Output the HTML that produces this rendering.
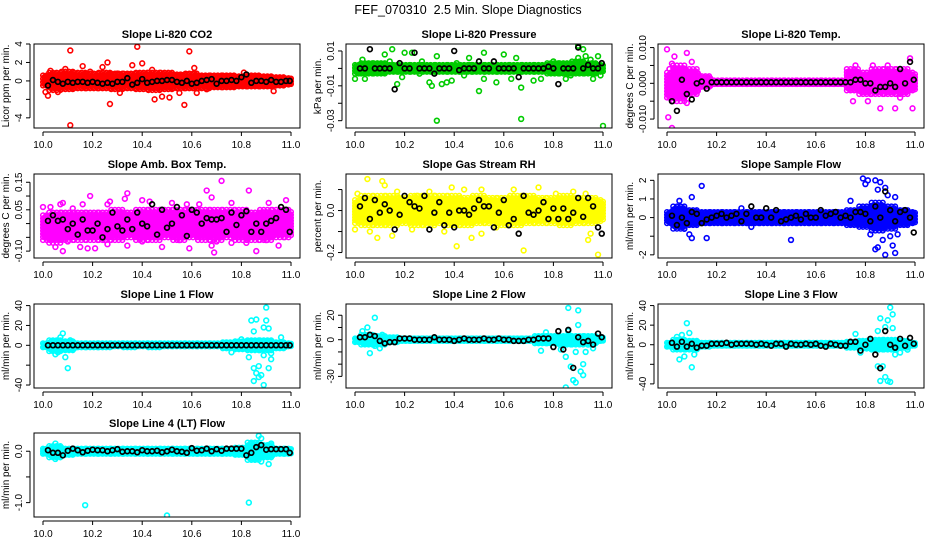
<!DOCTYPE html>
<html><head><meta charset="utf-8"><style>
html,body{margin:0;padding:0;background:#fff;}
svg{display:block;font-family:"Liberation Sans",Arial,sans-serif;}
</style></head><body>
<svg id="chart" width="936" height="540" viewBox="0 0 936 540" xmlns="http://www.w3.org/2000/svg">
<rect width="936" height="540" fill="#fff"/>
<text x="468" y="14" text-anchor="middle" font-size="12.5" xml:space="preserve">FEF_070310  2.5 Min. Slope Diagnostics</text>
</svg>
<script>
const blackX = [10.02,10.04,10.06,10.08,10.10,10.12,10.14,10.16,10.18,10.20,10.22,10.24,10.26,10.28,10.30,10.32,10.34,10.36,10.38,10.40,10.42,10.44,10.46,10.48,10.50,10.52,10.54,10.56,10.58,10.60,10.62,10.64,10.66,10.68,10.70,10.72,10.74,10.76,10.78,10.80,10.82,10.84,10.86,10.88,10.90,10.92,10.94,10.96,10.98,10.995];
const binX = [10.00,10.05,10.10,10.15,10.20,10.25,10.30,10.35,10.40,10.45,10.50,10.55,10.60,10.65,10.70,10.75,10.80,10.85,10.90,10.95,11.00];
const xTicks = [10.0,10.2,10.4,10.6,10.8,11.0];
const xTickLabels = ["10.0","10.2","10.4","10.6","10.8","11.0"];

// CO2
const co2BlackY = [-0.5,0.1,-0.1,-0.3,-0.1,-0.2,-0.1,-0.1,-0.2,-0.1,-0.2,-0.3,-0.2,-0.3,-0.1,-0.1,0.3,-0.4,-0.2,0.2,-0.2,-0.1,0,0,0.1,0.1,-0.1,-0.2,0,-0.3,-0.2,0,0.1,0.2,-0.3,0,0,0.1,0,0.4,0.7,-0.2,0,0,-0.1,0.1,-0.1,-0.1,0,0];
const co2BandLo = [-0.5,-1.0,-0.9,-0.8,-0.8,-0.8,-0.9,-0.8,-0.9,-1.0,-0.9,-0.8,-0.8,-0.8,-0.7,-0.7,-0.6,-0.6,-0.6,-0.5,-0.4];
const co2BandHi = [0.6,0.9,1.0,0.9,0.8,0.9,0.8,0.8,0.9,0.9,0.9,0.7,0.8,0.6,0.6,0.6,0.5,0.6,0.5,0.4,0.3];
const co2OutX = [10.11,10.38,10.59,10.11,10.27,10.57,10.45,10.48,10.51,10.02,10.01,10.26,10.40,10.16,10.36,10.24,10.31,10.55,10.62,10.93,10.06,10.44,10.61,10.03,10.09,10.81,10.19,10.66,10.30];
const co2OutY = [3.3,3.7,3.2,-4.8,-2.5,-2.6,-2.0,-1.7,-1.8,-1.6,-1.2,2.0,1.9,1.6,1.7,1.5,-1.3,-1.3,-1.3,-1.1,-1.2,1.2,1.4,1.1,1.3,0.9,1.0,-0.9,0.8];

// Pressure
const presBlackY = [0,0,0.011,0,0,0,0,-0.012,0.003,0,0,0.009,0,0,0,-0.003,0,0,0,0.010,-0.001,0,0,0,0.004,0,0,0.004,0,0,0,0,-0.005,0,0,0,0,0,0.001,0,-0.009,0,0,0,0.012,0,0.002,0,0,0.003];
const presBandLo = [-0.003,-0.003,-0.003,-0.002,-0.002,-0.002,-0.002,-0.002,-0.002,-0.002,-0.002,-0.002,-0.002,-0.002,-0.002,-0.002,-0.003,-0.003,-0.003,-0.003,-0.002];
const presBandHi = [0.002,0.003,0.003,0.002,0.002,0.002,0.002,0.002,0.002,0.002,0.002,0.002,0.002,0.002,0.002,0.002,0.003,0.003,0.004,0.003,0.002];
const presOutX = [10.00,10.02,10.03,10.04,10.12,10.14,10.15,10.17,10.19,10.20,10.23,10.27,10.30,10.31,10.33,10.35,10.33,10.37,10.39,10.41,10.44,10.46,10.50,10.52,10.52,10.57,10.60,10.63,10.67,10.67,10.72,10.75,10.80,10.85,10.87,10.90,10.92,10.93,10.95,10.96,10.98,10.99,11.00,10.90,10.65,10.08,10.26,10.46];
const presOutY = [-0.006,0.002,0.005,-0.006,0.008,0.004,0.011,-0.009,-0.005,0.009,0.009,0.004,-0.008,-0.010,-0.030,-0.009,0.007,-0.008,-0.007,0.003,-0.004,0.006,-0.013,0.009,-0.006,-0.008,0.008,-0.006,-0.011,-0.029,-0.007,-0.006,0.004,-0.006,-0.004,0.006,0.011,0.007,0.005,-0.006,0.007,-0.004,-0.033,0.013,0.006,-0.002,-0.003,0.002];

// Li-820 Temp
const tempBlackY = [-0.005,-0.0077,0.001,-0.003,-0.0045,0,0.0005,-0.0015,0.0003,0.0003,0.0003,0.0003,0.0003,0.0003,0.0003,0.0003,0.0003,0.0003,0.0003,0.0003,0.0003,0.0003,0.0003,0.0003,0.0003,0.0003,0.0003,0.0003,0.0003,0.0003,0.0003,0.0003,0.0003,0.0003,0.0003,0.0003,0.0003,0.001,0.001,0,0,-0.002,-0.001,-0.001,0,-0.001,0.004,0,0.006,0.001];
const tempBandLo = [-0.004,-0.005,-0.003,-0.001,-0.0002,-0.0002,-0.0002,-0.0002,-0.0002,-0.0002,-0.0002,-0.0002,-0.0002,-0.0002,-0.0002,-0.002,-0.003,-0.003,-0.003,-0.003,-0.002];
const tempBandHi = [0.003,0.005,0.004,0.002,0.0008,0.0008,0.0008,0.0008,0.0008,0.0008,0.0008,0.0008,0.0008,0.0008,0.0008,0.004,0.003,0.004,0.004,0.004,0.003];
const tempOutX = [10.00,10.005,10.02,10.01,10.02,10.03,10.08,10.08,10.04,10.01,10.03,10.10,10.06,10.07,10.75,10.81,10.86,10.92,10.99,10.83,10.89,10.98,10.76,10.94];
const tempOutY = [0.0095,-0.0095,-0.0125,0.004,0.0055,0.0075,0.0085,-0.0055,-0.002,-0.004,0.0,0.006,-0.003,0.003,-0.005,-0.005,-0.007,-0.007,-0.007,0.005,0.005,0.007,0.005,-0.004];

// Amb box temp
const ambBlackY = [0.01,0.03,0.01,0.015,-0.02,0.0,-0.04,0.015,-0.025,-0.025,0.0,-0.05,-0.02,0.04,-0.01,-0.025,0.015,-0.02,0.04,0.0,-0.01,0.07,-0.04,0.05,-0.015,0.0,0.06,0.03,-0.045,0.05,0.04,0.0,0.02,0.015,0.015,0.02,-0.03,0.04,-0.005,0.03,0.045,-0.03,0.0,-0.03,0.0,0.01,0.02,0.06,0.05,-0.03];
const ambBandLo = [-0.06,-0.07,-0.06,-0.06,-0.06,-0.06,-0.06,-0.05,-0.06,-0.06,-0.05,-0.06,-0.05,-0.06,-0.06,-0.05,-0.06,-0.06,-0.06,-0.05,-0.05];
const ambBandHi = [0.03,0.04,0.04,0.04,0.04,0.04,0.05,0.04,0.05,0.05,0.05,0.05,0.05,0.05,0.05,0.05,0.05,0.04,0.05,0.05,0.05];
const ambOutX = [10.00,10.03,10.07,10.08,10.12,10.16,10.19,10.26,10.27,10.33,10.34,10.40,10.43,10.52,10.58,10.63,10.66,10.68,10.76,10.83,10.91,10.98,10.72,10.05,10.08,10.15,10.18,10.21,10.26,10.34,10.48,10.59,10.68,10.69,10.76,10.82,10.86,10.95,10.03,10.10,10.25,10.40,10.55,10.70,10.90];
const ambOutY = [0.06,0.06,0.07,0.075,0.055,0.07,0.10,0.07,0.08,0.09,0.11,0.085,0.08,0.075,0.07,0.07,0.12,0.095,0.075,0.12,0.075,0.085,0.155,-0.085,-0.10,-0.085,-0.09,-0.09,-0.075,-0.08,-0.085,-0.09,-0.08,-0.105,-0.07,-0.07,-0.10,-0.08,-0.06,-0.065,-0.06,-0.065,-0.06,-0.065,-0.06];

// Gas stream RH
const rhBlackY = [0.02,0.06,-0.04,0.05,-0.01,0.03,0.0,-0.09,-0.02,0.07,0.04,0.02,0.01,0.07,-0.09,-0.01,0.04,-0.07,-0.01,-0.08,0.0,0.0,-0.02,0.01,0.05,0.02,0.02,-0.08,-0.01,0.05,-0.07,-0.04,-0.11,0.07,-0.01,-0.02,0.00,0.04,-0.04,0.01,-0.04,0.01,-0.04,-0.01,0.06,-0.03,0.06,0.02,-0.08,-0.11];
const rhBandLo = [-0.06,-0.07,-0.07,-0.07,-0.06,-0.07,-0.07,-0.06,-0.07,-0.07,-0.06,-0.06,-0.07,-0.07,-0.06,-0.06,-0.06,-0.07,-0.06,-0.06,-0.05];
const rhBandHi = [0.05,0.07,0.07,0.07,0.06,0.07,0.07,0.07,0.07,0.06,0.07,0.06,0.06,0.07,0.07,0.06,0.06,0.07,0.06,0.06,0.05];
const rhOutX = [10.00,10.01,10.05,10.06,10.09,10.11,10.12,10.15,10.17,10.23,10.30,10.32,10.39,10.41,10.44,10.47,10.51,10.51,10.64,10.68,10.74,10.81,10.88,10.93,10.94,10.95,10.98,10.36,10.57,10.25];
const rhOutY = [-0.09,0.08,0.15,-0.10,-0.13,0.14,0.12,-0.12,0.09,-0.09,0.09,0.07,0.11,-0.17,0.10,-0.13,-0.11,0.10,0.10,-0.19,0.11,0.08,0.09,0.08,-0.14,-0.11,-0.21,-0.10,-0.08,0.07];

// Sample flow
const sampBlackY = [0.1,-0.4,0.0,-0.3,0.3,0.2,-0.3,-0.1,0.0,0.1,0.2,0.0,0.1,0.2,-0.2,0.2,0.6,0.0,0.0,0.5,0.0,0.4,-0.2,-0.1,0.0,0.1,-0.1,0.2,0.0,0.0,0.4,0.1,0.2,0.3,0.0,0.1,0.0,0.3,0.3,0.2,-0.2,0.6,0.0,1.4,0.4,-0.2,0.3,0.4,0.0,-0.8];
const sampBandLo = [-0.3,-0.6,-0.4,-0.3,-0.3,-0.3,-0.3,-0.3,-0.3,-0.3,-0.3,-0.3,-0.3,-0.3,-0.3,-0.4,-0.5,-0.7,-0.6,-0.4,-0.3];
const sampBandHi = [0.3,0.6,0.4,0.3,0.3,0.3,0.3,0.3,0.3,0.3,0.3,0.3,0.3,0.3,0.3,0.4,0.6,0.8,0.6,0.4,0.3];
const sampOutX = [10.05,10.07,10.09,10.10,10.10,10.14,10.16,10.30,10.34,10.50,10.74,10.79,10.80,10.81,10.84,10.86,10.82,10.85,10.87,10.88,10.90,10.91,10.92,10.93,10.89,10.88,10.92,10.06,10.84,10.85];
const sampOutY = [0.9,-0.6,-0.9,-1.1,1.1,1.7,-1.1,0.5,-0.5,-1.2,0.9,2.1,1.8,2.0,2.0,1.9,-0.9,-1.6,-1.2,-2.0,-1.0,-1.5,-1.9,-0.9,1.2,1.6,1.1,-0.5,-1.7,1.5];

// Line 1
const l1BlackY = [0,0,0,0,0,0,0,0,0,0,0,0,0,0,0,0,0,0,0,0,0,0,0,0,0,0,0,0,0,0,0,0,0,0,0,0,0,0,0,0,0,0,0,0,0,0,0,0,0,0];
const l1BandLo = [-2,-6,-5,-2,-2,-2,-1,-2,-1,-2,-1,-1,-1,-1,-1,-3,-4,-5,-5,-3,-1];
const l1BandHi = [2,5,4,2,2,2,2,2,2,2,2,2,2,2,2,3,4,5,5,3,2];
const l1OutX = [10.04,10.05,10.07,10.08,10.09,10.10,10.06,10.11,10.80,10.83,10.84,10.85,10.85,10.86,10.87,10.88,10.89,10.89,10.90,10.91,10.90,10.91,10.92,10.92,10.96,10.85,10.89,10.87,10.86,10.76];
const l1OutY = [4,-9,8,12,-12,-23,-7,5,6,-12,25,-23,14,26,-21,-30,18,-10,38,-23,25,17,-14,-8,8,-36,-40,-32,-28,-7];

// Line 2
const l2BlackY = [2,2,4,3,-1,-3,-2,-2,1,1,1,0,0,0,0,2,0,0,0,-1,0,1,0,0,0,1,0,0,1,0,0,-1,-1,-1,0,0,1,1,1,-6,7,-8,8,-23,2,-2,-1,-4,5,2];
const l2BandLo = [-2,-4,-4,-2,-1,-1,-1,-1,-1,-1,-1,-1,-1,-1,-1,-3,-3,-4,-4,-3,-1];
const l2BandHi = [1,4,3,2,1,1,1,1,1,1,1,1,1,1,1,3,3,3,3,3,2];
const l2OutX = [10.03,10.05,10.08,10.06,10.10,10.11,10.77,10.75,10.84,10.85,10.87,10.86,10.90,10.90,10.85,10.88,10.89,10.91,10.92,10.92,10.93,10.94,10.96,10.86,10.89,10.83,10.08];
const l2OutY = [7,10,18,-11,-7,4,6,-9,-4,-14,-22,26,24,12,-39,-33,-35,-26,-29,-20,-10,-4,-7,7,-10,-8,-5];

// Line 3
const l3BlackY = [2,-2,3,-2,1,-3,-1,-1,1,1,1,2,0,1,1,1,1,0,1,0,-1,1,1,-2,1,0,0,1,0,1,-1,-2,1,0,-1,-1,3,3,-6,0,6,-10,-24,14,0,-3,6,-1,7,1];
const l3BandLo = [-2,-5,-5,-2,-1,-1,-1,-1,-1,-1,-1,-1,-1,-1,-1,-3,-4,-5,-5,-3,-1];
const l3BandHi = [2,5,4,2,2,2,2,2,2,2,2,2,2,2,2,3,4,5,5,4,2];
const l3OutX = [10.04,10.06,10.08,10.09,10.05,10.10,10.07,10.11,10.76,10.78,10.85,10.86,10.87,10.88,10.88,10.89,10.90,10.89,10.90,10.91,10.92,10.91,10.86,10.85,10.94,10.97];
const l3OutY = [8,10,22,12,-15,-23,-12,-10,11,-8,14,27,-22,-33,18,-37,-38,25,38,31,-10,17,-37,-22,-8,-5];

// Line 4
const l4BlackY = [0.02,-0.03,-0.03,-0.08,0.01,0.05,0.02,-0.02,0.01,0.03,0.02,0.02,0.0,0.02,0.04,-0.01,0.0,0.0,-0.02,0.02,0.0,0.0,0.01,-0.02,0.0,0.03,0.0,-0.01,-0.03,0.06,0.01,0.02,0.05,0.00,0.04,0.01,0.05,0.05,0.05,0.05,-0.08,-0.03,0.08,0.12,0.03,0.04,0.04,0.04,0.04,-0.03];
const l4BandLo = [-0.05,-0.12,-0.07,-0.05,-0.05,-0.05,-0.05,-0.05,-0.05,-0.05,-0.05,-0.05,-0.05,-0.05,-0.05,-0.05,-0.07,-0.17,-0.12,-0.05,-0.05];
const l4BandHi = [0.05,0.10,0.05,0.05,0.05,0.05,0.05,0.05,0.05,0.05,0.05,0.05,0.05,0.05,0.05,0.05,0.07,0.17,0.12,0.05,0.05];
const l4OutX = [10.17,10.50,10.83,10.05,10.05,10.87,10.88,10.91,10.88,10.85,10.92,10.84];
const l4OutY = [-1.05,-1.25,-1.0,0.15,-0.15,0.3,0.25,-0.25,-0.2,-0.15,0.15,0.15];

const panels = [
 {name:"co2",title:"Slope Li-820 CO2",ylab:"Licor ppm per min.",col:0,row:0,ylim:[-5.1,4.0],ticks:[-4,-2,0,2,4],labels:["-4","","0","2","4"],color:"#ff0000",by:co2BlackY,lo:co2BandLo,hi:co2BandHi,ox:co2OutX,oy:co2OutY},
 {name:"pressure",title:"Slope Li-820 Pressure",ylab:"kPa per min.",col:1,row:0,ylim:[-0.0342,0.014],ticks:[-0.03,-0.02,-0.01,0,0.01],labels:["-0.03","","-0.01","","0.01"],color:"#00cc00",by:presBlackY,lo:presBandLo,hi:presBandHi,ox:presOutX,oy:presOutY},
 {name:"li820-temp",title:"Slope Li-820 Temp.",ylab:"degrees C per min.",col:2,row:0,ylim:[-0.0125,0.011],ticks:[-0.01,-0.005,0,0.005,0.01],labels:["-0.010","","0.000","","0.010"],color:"#ff00ff",by:tempBlackY,lo:tempBandLo,hi:tempBandHi,ox:tempOutX,oy:tempOutY},
 {name:"amb-box-temp",title:"Slope Amb. Box Temp.",ylab:"degrees C per min.",col:0,row:1,ylim:[-0.125,0.18],ticks:[-0.1,-0.05,0,0.05,0.1,0.15],labels:["-0.10","","","0.05","","0.15"],color:"#ff00ff",by:ambBlackY,lo:ambBandLo,hi:ambBandHi,ox:ambOutX,oy:ambOutY},
 {name:"gas-stream-rh",title:"Slope Gas Stream RH",ylab:"percent per min.",col:1,row:1,ylim:[-0.226,0.174],ticks:[-0.2,-0.1,0,0.1],labels:["-0.2","","0.0",""],color:"#ffff00",by:rhBlackY,lo:rhBandLo,hi:rhBandHi,ox:rhOutX,oy:rhOutY},
 {name:"sample-flow",title:"Slope Sample Flow",ylab:"ml/min per min.",col:2,row:1,ylim:[-2.17,2.34],ticks:[-2,-1,0,1,2],labels:["-2","","0","1","2"],color:"#0000ff",by:sampBlackY,lo:sampBandLo,hi:sampBandHi,ox:sampOutX,oy:sampOutY},
 {name:"line1-flow",title:"Slope Line 1 Flow",ylab:"ml/min per min.",col:0,row:2,ylim:[-43,41.6],ticks:[-40,-20,0,20,40],labels:["-40","","0","20","40"],color:"#00ffff",by:l1BlackY,lo:l1BandLo,hi:l1BandHi,ox:l1OutX,oy:l1OutY},
 {name:"line2-flow",title:"Slope Line 2 Flow",ylab:"ml/min per min.",col:1,row:2,ylim:[-39.5,29.2],ticks:[-30,-20,-10,0,10,20],labels:["-30","","","0","","20"],color:"#00ffff",by:l2BlackY,lo:l2BandLo,hi:l2BandHi,ox:l2OutX,oy:l2OutY},
 {name:"line3-flow",title:"Slope Line 3 Flow",ylab:"ml/min per min.",col:2,row:2,ylim:[-44.2,41.6],ticks:[-40,-20,0,20,40],labels:["-40","","0","20","40"],color:"#00ffff",by:l3BlackY,lo:l3BandLo,hi:l3BandHi,ox:l3OutX,oy:l3OutY},
 {name:"line4-flow",title:"Slope Line 4 (LT) Flow",ylab:"ml/min per min.",col:0,row:3,ylim:[-1.28,0.355],ticks:[-1.0,-0.5,0.0],labels:["-1.0","","0.0"],color:"#00ffff",by:l4BlackY,lo:l4BandLo,hi:l4BandHi,ox:l4OutX,oy:l4OutY}
];

const NS="http://www.w3.org/2000/svg";
const svg=document.getElementById('chart');
const colLeft=[34,346,658], rowTop=[44,174,304,433], PW=266, PH=84;
function mk(tag,attrs,parent){const e=document.createElementNS(NS,tag);for(const k in attrs)e.setAttribute(k,attrs[k]);(parent||svg).appendChild(e);return e;}

panels.forEach(function(p){
  const L=colLeft[p.col], T=rowTop[p.row], R=L+PW, B=T+PH;
  const g=mk('g',{});
  
  
  const xs=function(v){return L+9+(v-10)*(PW-18);};
  const ys=function(v){return B-(v-p.ylim[0])/(p.ylim[1]-p.ylim[0])*PH;};
  const clip=mk('clipPath',{id:'clip-'+p.name},g);
  mk('rect',{x:L,y:T,width:PW,height:PH},clip);
  const data=mk('g',{'clip-path':'url(#clip-'+p.name+')'},g);
  // dense band drawn as overlapping open circles spanning each bin's range
  binX.forEach(function(bx,i){
    const bg=mk('g',{fill:'none',stroke:p.color,'stroke-width':1.5},data);
    
    
    const x0=(i===0)?bx:bx-0.025, x1=(i===binX.length-1)?bx:bx+0.025;
    for(let k=0, x=x0; x<=x1+1e-9; k++, x+=0.005){
      const shrink=(k%3===1)?0.7:((k%3===2)?0.85:1);
      const lo=p.lo[i]*shrink, hi=p.hi[i]*shrink;
      const y0=ys(hi), y1=ys(lo);
      const n=Math.max(1,Math.round((y1-y0)/3));
      for(let j=0;j<=n;j++){
        mk('circle',{cx:xs(x),cy:y0+(y1-y0)*j/n,r:2.3},bg);
      }
    }
  });
  p.ox.forEach(function(x,i){
    const c=mk('circle',{cx:xs(x),cy:ys(p.oy[i]),r:2.4,fill:'none',stroke:p.color,'stroke-width':1.6},data);
    
    
  });
  blackX.forEach(function(x,i){
    const c=mk('circle',{cx:xs(x),cy:ys(p.by[i]),r:2.4,fill:'none',stroke:'#000','stroke-width':1.7},data);
    
    
  });
  const box=mk('rect',{x:L,y:T,width:PW,height:PH,fill:'none',stroke:'#000','stroke-width':1},g);
  
  
  const t=mk('text',{x:(L+R)/2,y:T-6,'text-anchor':'middle','font-size':11,'font-weight':'bold'},g);
  t.textContent=p.title;
  
  
  // x axis
  mk('line',{x1:xs(10),x2:xs(11),y1:B+4,y2:B+4,stroke:'#000'},g);
  xTicks.forEach(function(v,i){
    mk('line',{x1:xs(v),x2:xs(v),y1:B+4,y2:B+8,stroke:'#000'},g);
    const tl=mk('text',{x:xs(v),y:B+20,'text-anchor':'middle','font-size':10},g);
    tl.textContent=xTickLabels[i];
    
    
  });
  // y axis
  const yAx=L-4;
  mk('line',{x1:yAx,x2:yAx,y1:ys(p.ticks[0]),y2:ys(p.ticks[p.ticks.length-1]),stroke:'#000'},g);
  p.ticks.forEach(function(v,i){
    mk('line',{x1:yAx-4,x2:yAx,y1:ys(v),y2:ys(v),stroke:'#000'},g);
    if(p.labels[i]){
      const tl=mk('text',{x:0,y:0,'text-anchor':'middle','font-size':10,transform:'translate('+(yAx-8)+','+ys(v)+') rotate(-90)'},g);
      tl.textContent=p.labels[i];
      
      
    }
  });
  const yl=mk('text',{x:0,y:0,'text-anchor':'middle','font-size':10,transform:'translate('+(L-25)+','+(T+PH/2)+') rotate(-90)'},g);
  yl.textContent=p.ylab;
  
  
});
</script>
</body></html>
